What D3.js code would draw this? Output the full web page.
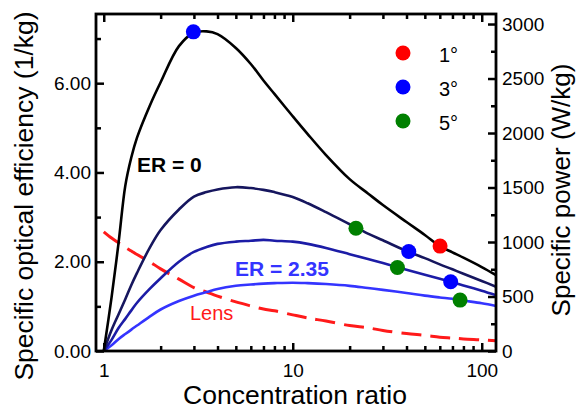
<!DOCTYPE html>
<html>
<head>
<meta charset="utf-8">
<script src="https://cdn.jsdelivr.net/npm/d3@7"></script>
<style>
body { margin: 0; background: #fff; }
svg { display: block; font-family: "Liberation Sans", Arial, sans-serif; }
</style>
</head>
<body>
<div id="chart"></div>
<script>
// concentration ratio (x, log scale)
const ratio = [1, 1.1, 1.2, 1.3, 1.4, 1.5, 1.75, 2, 2.5, 3, 3.5, 4, 5, 6, 7, 8, 10, 12, 15, 20, 25, 30, 40, 50, 60, 70, 80, 100, 119];

// specific optical efficiency (1/kg) for each curve
const er0   = [0, 1.2, 2.45, 3.7, 4.34, 4.78, 5.49, 6.02, 6.83, 7.13, 7.16, 7.1, 6.79, 6.43, 6.06, 5.76, 5.26, 4.86, 4.39, 3.85, 3.53, 3.27, 2.89, 2.6, 2.35, 2.21, 2.09, 1.88, 1.70];
const erB   = [0, 0.47, 0.83, 1.16, 1.48, 1.75, 2.31, 2.71, 3.17, 3.46, 3.56, 3.62, 3.67, 3.65, 3.61, 3.56, 3.45, 3.31, 3.11, 2.84, 2.63, 2.48, 2.24, 2.08, 1.94, 1.83, 1.73, 1.57, 1.44];
const erC   = [0, 0.25, 0.52, 0.72, 0.91, 1.08, 1.39, 1.63, 2.0, 2.22, 2.33, 2.4, 2.45, 2.47, 2.49, 2.47, 2.45, 2.4, 2.31, 2.17, 2.06, 1.97, 1.82, 1.71, 1.62, 1.54, 1.47, 1.35, 1.25];
const er235 = [0, 0.13, 0.27, 0.38, 0.48, 0.57, 0.77, 0.93, 1.12, 1.24, 1.32, 1.39, 1.46, 1.49, 1.51, 1.52, 1.53, 1.52, 1.5, 1.46, 1.41, 1.37, 1.3, 1.24, 1.2, 1.17, 1.13, 1.07, 1.01];
const lens  = [2.67, 2.53, 2.42, 2.32, 2.24, 2.16, 2.0, 1.84, 1.61, 1.42, 1.32, 1.23, 1.1, 1.01, 0.94, 0.9, 0.81, 0.74, 0.67, 0.57, 0.52, 0.46, 0.39, 0.35, 0.31, 0.29, 0.27, 0.25, 0.23];

// marked points (angle -> [ratio, efficiency])
const pts1deg = [[60.2, 2.35]];
const pts3deg = [[2.98, 7.15], [41.1, 2.23], [68.5, 1.55]];
const pts5deg = [[21.6, 2.75], [35.8, 1.87], [76.8, 1.14]];

const legendLabels = ["1°", "3°", "5°"];
const xMajor = [1, 10, 100];
const xMinor = [2, 3, 4, 5, 6, 7, 8, 9, 20, 30, 40, 50, 60, 70, 80, 90];
const yMajor = [0, 2, 4, 6];
const yMinor = [1, 3, 5, 7];
const y2Major = [0, 500, 1000, 1500, 2000, 2500, 3000];
const y2Minor = [250, 750, 1250, 1750, 2250, 2750];

const width = 577, height = 410,
      margin = ({ top: 14, right: 81, bottom: 59, left: 96 });

const svg = d3.select("#chart")
    .append("svg")
    .attr("width", width)
    .attr("height", height);

const x = d3.scaleLog()
    .domain([0.91, 119])
    .range([margin.left, width - margin.right]);

const y = d3.scaleLinear()
    .domain([0, 7.55])
    .range([height - margin.bottom, margin.top]);

const y2 = d3.scaleLinear()
    .domain([0, 3092])
    .range([height - margin.bottom, margin.top]);

const tickFont = "19px";

function styleAxis(g) {
    g.select(".domain").remove();
    g.selectAll(".tick line").attr("stroke", "#000").attr("stroke-width", 2.5);
    g.selectAll(".tick text").attr("fill", "#000").style("font-size", tickFont);
}

// bottom axis
svg.append("g")
    .attr("transform", `translate(0,${height - margin.bottom})`)
    .call(d3.axisBottom(x).tickValues(xMajor).tickSizeInner(-8).tickSizeOuter(0)
        .tickPadding(13).tickFormat(d3.format("d")))
    .call(styleAxis);
svg.append("g")
    .attr("transform", `translate(0,${height - margin.bottom})`)
    .call(d3.axisBottom(x).tickValues(xMinor).tickSize(-5).tickFormat(""))
    .call(styleAxis);

// top axis (mirror ticks)
svg.append("g")
    .attr("transform", `translate(0,${margin.top})`)
    .call(d3.axisTop(x).tickValues(xMajor).tickSize(-8).tickFormat(""))
    .call(styleAxis);
svg.append("g")
    .attr("transform", `translate(0,${margin.top})`)
    .call(d3.axisTop(x).tickValues(xMinor).tickSize(-5).tickFormat(""))
    .call(styleAxis);

// left axis
svg.append("g")
    .attr("transform", `translate(${margin.left},0)`)
    .call(d3.axisLeft(y).tickValues(yMajor).tickSizeInner(-8).tickSizeOuter(0)
        .tickPadding(5).tickFormat(d3.format(".2f")))
    .call(styleAxis);
svg.append("g")
    .attr("transform", `translate(${margin.left},0)`)
    .call(d3.axisLeft(y).tickValues(yMinor).tickSize(-5).tickFormat(""))
    .call(styleAxis);

// right axis
svg.append("g")
    .attr("transform", `translate(${width - margin.right},0)`)
    .call(d3.axisRight(y2).tickValues(y2Major).tickSizeInner(-8).tickSizeOuter(0)
        .tickPadding(6).tickFormat(d3.format("d")))
    .call(styleAxis);
svg.append("g")
    .attr("transform", `translate(${width - margin.right},0)`)
    .call(d3.axisRight(y2).tickValues(y2Minor).tickSize(-5).tickFormat(""))
    .call(styleAxis);

// curves
const line = d3.line()
    .x(d => x(d[0]))
    .y(d => y(d[1]))
    .curve(d3.curveCatmullRom.alpha(0.5));

const curves = [
    { vals: lens,  color: "#ff1a1a", dash: "20,9", w: 3 },
    { vals: er235, color: "#3434ff", dash: null, w: 2.6 },
    { vals: erC,   color: "#1c1ca6", dash: null, w: 2.6 },
    { vals: erB,   color: "#16165e", dash: null, w: 2.6 },
    { vals: er0,   color: "#000000", dash: null, w: 2.6 }
];

svg.selectAll(".curve")
    .data(curves)
    .join("path")
    .attr("class", "curve")
    .attr("fill", "none")
    .attr("stroke", d => d.color)
    .attr("stroke-width", d => d.w)
    .attr("stroke-dasharray", d => d.dash)
    .attr("d", d => line(ratio.map((r, i) => [r, d.vals[i]])));

// frame
svg.append("rect")
    .attr("x", margin.left)
    .attr("y", margin.top)
    .attr("width", width - margin.left - margin.right)
    .attr("height", height - margin.top - margin.bottom)
    .attr("fill", "none")
    .attr("stroke", "#000")
    .attr("stroke-width", 2.8);

// marked points
const dotColors = ["#ff0000", "#0000ff", "#008000"];
const groups = [pts1deg, pts3deg, pts5deg];

groups.forEach((pts, k) => {
    svg.selectAll(".dot" + k)
        .data(pts)
        .join("circle")
        .attr("class", "dot" + k)
        .attr("cx", d => x(d[0]))
        .attr("cy", d => y(d[1]))
        .attr("r", 7.5)
        .attr("fill", dotColors[k]);
});

// legend
const legend = svg.append("g").attr("transform", "translate(403,53)");
legendLabels.forEach((lab, i) => {
    legend.append("circle")
        .attr("cx", 0)
        .attr("cy", i * 34)
        .attr("r", 7.5)
        .attr("fill", dotColors[i]);
    legend.append("text")
        .attr("x", 36)
        .attr("y", i * 34 + 2)
        .attr("dy", "0.35em")
        .style("font-size", "20px")
        .text(lab);
});

// annotations
svg.append("text")
    .attr("x", x(1.5))
    .attr("y", y(4.0))
    .style("font-size", "21px")
    .style("font-weight", "bold")
    .text("ER = 0");

svg.append("text")
    .attr("x", x(4.95))
    .attr("y", y(1.67))
    .style("font-size", "21px")
    .style("font-weight", "bold")
    .attr("fill", "#3434ff")
    .text("ER = 2.35");

svg.append("text")
    .attr("x", x(2.86))
    .attr("y", y(0.69))
    .style("font-size", "20px")
    .attr("fill", "#ff1a1a")
    .text("Lens");

// axis titles
svg.append("text")
    .attr("x", 295)
    .attr("y", 404)
    .attr("text-anchor", "middle")
    .style("font-size", "26.5px")
    .text("Concentration ratio");

svg.append("text")
    .attr("transform", "translate(33,196) rotate(-90)")
    .attr("text-anchor", "middle")
    .style("font-size", "26.5px")
    .text("Specific optical efficiency (1/kg)");

svg.append("text")
    .attr("transform", "translate(570,190) rotate(-90)")
    .attr("text-anchor", "middle")
    .style("font-size", "26px")
    .text("Specific power (W/kg)");
</script>
</body>
</html>
